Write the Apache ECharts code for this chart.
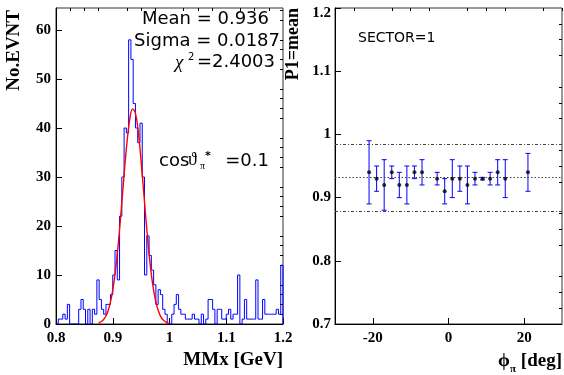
<!DOCTYPE html>
<html>
<head>
<meta charset="utf-8">
<script src="https://cdn.jsdelivr.net/npm/echarts@6/dist/echarts.min.js"></script>
<style>
html,body{margin:0;padding:0;background:#fff;}
#chart{width:564px;height:375px;}
</style>
</head>
<body>
<div id="chart"></div>
<script>
// ---------- data: left histogram ----------
const binLow = 0.8;
const binWidth = 0.004;
const binCounts = [
  0, 1, 1, 2, 1, 4, 0, 0, 0, 0,
  3, 5, 3, 0, 3, 0, 3, 2, 9, 5,
  3, 2, 4, 4, 6, 10, 15, 9, 22, 30,
  40, 39, 58, 54, 45, 40, 37, 41, 30, 10,
  18, 14, 11, 8, 4, 7, 6, 3, 2, 0,
  0, 2, 4, 6, 3, 2, 2, 1, 1, 1,
  2, 1, 1, 0, 2, 0, 1, 5, 5, 3,
  0, 3, 3, 1, 1, 2, 3, 1, 2, 2,
  10, 0, 1, 5, 1, 1, 1, 1, 9, 1,
  1, 5, 2, 2, 2, 2, 2, 3, 2, 12
];
const fitX = [0.875, 0.88, 0.885, 0.89, 0.895, 0.90, 0.905, 0.91, 0.915, 0.92, 0.925, 0.93, 0.935, 0.94, 0.945, 0.95, 0.955, 0.96, 0.965, 0.97, 0.975, 0.98, 0.985, 0.99, 0.995, 1.0];
const fitY = [0.2, 0.5, 1.1, 2.1, 4.0, 6.9, 11.1, 16.7, 23.4, 30.5, 37.0, 41.8, 43.9, 43.0, 39.2, 33.2, 26.3, 19.3, 13.2, 8.4, 5.0, 2.8, 1.4, 0.7, 0.3, 0.1];
const histXTicks = [0.8, 0.9, 1, 1.1, 1.2];
const histXMinor = [0.825, 0.85, 0.875, 0.925, 0.95, 0.975, 1.025, 1.05, 1.075, 1.125, 1.15, 1.175];
const histYTicks = [0, 10, 20, 30, 40, 50, 60];
const histYMinor = [2, 4, 6, 8, 12, 14, 16, 18, 22, 24, 26, 28, 32, 34, 36, 38, 42, 44, 46, 48, 52, 54, 56, 58, 62, 64];

// ---------- data: right panel ----------
const phiValues  = [-21, -19, -17, -15, -13, -11, -9, -7, -3, -1, 1, 3, 5, 7, 9, 11, 13, 15, 21];
const meanValues = [0.94, 0.93, 0.92, 0.94, 0.92, 0.92, 0.94, 0.94, 0.93, 0.91, 0.93, 0.93, 0.92, 0.93, 0.93, 0.93, 0.94, 0.93, 0.94];
const meanErrors = [0.05, 0.02, 0.04, 0.01, 0.02, 0.03, 0.01, 0.02, 0.01, 0.02, 0.03, 0.02, 0.03, 0.01, 0.002, 0.01, 0.02, 0.03, 0.03];
const fitMean = 0.932;
const fitBandHigh = 0.985;
const fitBandLow = 0.878;
const phiTicks = [-20, 0, 20];
const phiMinor = [-30, -25, -15, -10, -5, 5, 10, 15, 25, 30];
const p1Ticks = [0.7, 0.8, 0.9, 1, 1.1, 1.2];
const p1Minor = [0.725, 0.75, 0.775, 0.825, 0.85, 0.875, 0.925, 0.95, 0.975, 1.025, 1.05, 1.075, 1.125, 1.15, 1.175];

// ---------- build ----------
const histPoints = [[binLow, 0]];
binCounts.forEach((c, i) => histPoints.push([binLow + i * binWidth, c]));
histPoints.push([binLow + binCounts.length * binWidth, 0]);

const fitPoints = fitX.map((x, i) => [x, fitY[i]]);
const errData = phiValues.map((p, i) => [p, meanValues[i] - meanErrors[i], meanValues[i] + meanErrors[i]]);
const ptData = phiValues.map((p, i) => [p, meanValues[i]]);

const serif = "'Liberation Serif','Times New Roman',serif";
const sans = "'DejaVu Sans',sans-serif";
const labelStyle = {fontFamily: serif, fontWeight: 'bold', fontSize: 15, color: '#000'};

function majorAxis(grid, min, max, ticks, labelMargin, fmt) {
  return {
    type: 'value', gridIndex: grid, min: min, max: max,
    axisLine: {show: true, onZero: false, lineStyle: {color: '#000', width: 1}},
    axisTick: {show: true, inside: true, length: 6, customValues: ticks, lineStyle: {color: '#000'}},
    axisLabel: Object.assign({show: true, customValues: ticks, margin: labelMargin,
      formatter: fmt || (v => String(v))}, labelStyle),
    splitLine: {show: false}
  };
}
function minorAxis(grid, min, max, ticks) {
  return {
    type: 'value', gridIndex: grid, min: min, max: max,
    axisLine: {show: false, onZero: false},
    axisTick: {show: true, inside: true, length: 3, customValues: ticks, lineStyle: {color: '#000'}},
    axisLabel: {show: false},
    splitLine: {show: false}
  };
}

const chart = echarts.init(document.getElementById('chart'), null, {renderer: 'canvas'});
const rightY = majorAxis(1, 0.7, 1.2, p1Ticks, 4, v => v === 1.2 ? '{top|1.2}' : String(v));
rightY.axisLabel.rich = {top: {fontFamily: serif, fontWeight: 'bold', fontSize: 15, padding: [10, 0, 0, 0]}};

chart.setOption({
  animation: false,
  backgroundColor: '#fff',
  grid: [
    {left: 56, right: 281, top: 8, bottom: 51, show: true, borderColor: '#333', borderWidth: 1, backgroundColor: 'transparent'},
    {left: 335, right: 2, top: 8, bottom: 51, show: true, borderColor: '#333', borderWidth: 1, backgroundColor: 'transparent'}
  ],
  xAxis: [
    majorAxis(0, 0.8, 1.2, histXTicks, 7),
    minorAxis(0, 0.8, 1.2, histXMinor),
    majorAxis(1, -30, 30, phiTicks, 7),
    minorAxis(1, -30, 30, phiMinor)
  ],
  yAxis: [
    majorAxis(0, 0, 64.5, histYTicks, 5),
    minorAxis(0, 0, 64.5, histYMinor),
    rightY,
    minorAxis(1, 0.7, 1.2, p1Minor)
  ],
  series: [
    {
      type: 'line', xAxisIndex: 0, yAxisIndex: 0, step: 'end', data: histPoints,
      showSymbol: false, symbol: 'none', lineStyle: {color: '#0000ff', width: 1}, z: 3
    },
    {
      type: 'line', xAxisIndex: 0, yAxisIndex: 0, smooth: 0.4, data: fitPoints,
      showSymbol: false, symbol: 'none', lineStyle: {color: '#ff0000', width: 1.4}, z: 4
    },
    {
      type: 'custom', xAxisIndex: 2, yAxisIndex: 2, data: errData,
      encode: {x: 0, y: [1, 2]},
      renderItem: function (params, api) {
        const x = api.value(0);
        const pLo = api.coord([x, api.value(1)]);
        const pHi = api.coord([x, api.value(2)]);
        const cap = 2.5;
        const st = {stroke: '#0000ff', lineWidth: 1};
        return {type: 'group', children: [
          {type: 'line', shape: {x1: pHi[0], y1: pHi[1], x2: pLo[0], y2: pLo[1]}, style: st},
          {type: 'line', shape: {x1: pHi[0] - cap, y1: pHi[1], x2: pHi[0] + cap, y2: pHi[1]}, style: st},
          {type: 'line', shape: {x1: pLo[0] - cap, y1: pLo[1], x2: pLo[0] + cap, y2: pLo[1]}, style: st}
        ]};
      },
      z: 3
    },
    {
      type: 'scatter', xAxisIndex: 2, yAxisIndex: 2, data: ptData,
      symbol: 'circle', symbolSize: 4, itemStyle: {color: '#000'}, z: 5,
      markLine: {
        silent: true, symbol: 'none', label: {show: false}, precision: 4,
        data: [
          {yAxis: fitMean, lineStyle: {type: [1.5, 2], color: '#444', width: 1.2}},
          {yAxis: fitBandHigh, lineStyle: {type: [3, 2, 1, 2], color: '#444', width: 1}},
          {yAxis: fitBandLow, lineStyle: {type: [3, 2, 1, 2], color: '#444', width: 1}}
        ]
      }
    }
  ],
  graphic: [
    {type: 'text', x: 269, y: 19, style: {text: 'Mean = 0.936', font: '18px ' + sans, fill: '#000', align: 'right', verticalAlign: 'middle'}},
    {type: 'text', x: 280, y: 41, style: {text: 'Sigma = 0.0187', font: '18px ' + sans, fill: '#000', align: 'right', verticalAlign: 'middle'}},
    {type: 'text', x: 175, y: 63, style: {text: 'χ', font: 'italic 19px ' + serif, fill: '#000', align: 'left', verticalAlign: 'middle'}},
    {type: 'text', x: 188, y: 57, style: {text: '2', font: '10px ' + sans, fill: '#000', align: 'left', verticalAlign: 'middle'}},
    {type: 'text', x: 275, y: 62, style: {text: '=2.4003', font: '18px ' + sans, fill: '#000', align: 'right', verticalAlign: 'middle'}},
    {type: 'text', x: 159, y: 161, style: {text: 'cos', font: '18px ' + sans, fill: '#000', align: 'left', verticalAlign: 'middle'}},
    {type: 'text', x: 188, y: 160, style: {text: 'ϑ', font: '18px ' + serif, fill: '#000', align: 'left', verticalAlign: 'middle'}},
    {type: 'text', x: 200, y: 166, style: {text: 'π', font: '10px ' + serif, fill: '#000', align: 'left', verticalAlign: 'middle'}},
    {type: 'text', x: 205, y: 156, style: {text: '*', font: 'bold 11px ' + sans, fill: '#000', align: 'left', verticalAlign: 'middle'}},
    {type: 'text', x: 269, y: 161, style: {text: '=0.1', font: '18px ' + sans, fill: '#000', align: 'right', verticalAlign: 'middle'}},
    {type: 'text', x: 358, y: 38, style: {text: 'SECTOR=1', font: '14px ' + sans, fill: '#000', align: 'left', verticalAlign: 'middle'}},
    {type: 'text', x: 14, y: 10, rotation: Math.PI / 2, style: {text: 'No.EVNT', font: 'bold 19px ' + serif, fill: '#000', align: 'right', verticalAlign: 'middle'}},
    {type: 'text', x: 293, y: 8, rotation: Math.PI / 2, style: {text: 'P1=mean', font: 'bold 18px ' + serif, fill: '#000', align: 'right', verticalAlign: 'middle'}},
    {type: 'text', x: 283, y: 360, style: {text: 'MMx [GeV]', font: 'bold 19px ' + serif, fill: '#000', align: 'right', verticalAlign: 'middle'}},
    {type: 'text', x: 498, y: 361, style: {text: 'ϕ', font: 'bold 19px ' + serif, fill: '#000', align: 'left', verticalAlign: 'middle'}},
    {type: 'text', x: 510, y: 369, style: {text: 'π', font: 'bold 11px ' + serif, fill: '#000', align: 'left', verticalAlign: 'middle'}},
    {type: 'text', x: 562, y: 361, style: {text: '[deg]', font: 'bold 19px ' + serif, fill: '#000', align: 'right', verticalAlign: 'middle'}}
  ]
});
</script>
</body>
</html>
